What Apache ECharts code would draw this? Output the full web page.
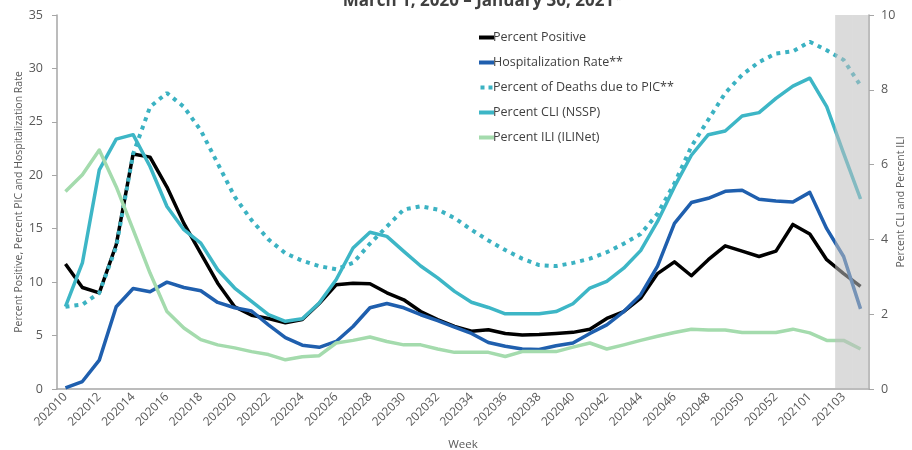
<!DOCTYPE html>
<html>
<head>
<meta charset="utf-8">
<script src="https://cdn.jsdelivr.net/npm/echarts@6/dist/echarts.min.js"></script>
<style>html,body{margin:0;padding:0;background:#fff;overflow:hidden}#c{width:912px;height:450px}</style>
</head>
<body>
<div id="c"></div>
<script>
const weeks = ['202010','202011','202012','202013','202014','202015','202016','202017','202018','202019',
'202020','202021','202022','202023','202024','202025','202026','202027','202028','202029',
'202030','202031','202032','202033','202034','202035','202036','202037','202038','202039',
'202040','202041','202042','202043','202044','202045','202046','202047','202048','202049',
'202050','202051','202052','202053','202101','202102','202103','202104'];

const percentPositive = [11.7,9.5,9.0,13.5,22.0,21.7,18.9,15.5,12.7,9.9,
7.7,6.9,6.6,6.2,6.5,8.0,9.75,9.9,9.85,9.0,
8.35,7.25,6.5,5.85,5.4,5.55,5.2,5.05,5.1,5.2,
5.3,5.6,6.6,7.25,8.5,10.8,11.9,10.6,12.1,13.4,
12.9,12.4,12.9,15.4,14.5,12.1,10.8,9.6];

const hospitalizationRate = [0.1,0.7,2.7,7.7,9.4,9.1,10.0,9.5,9.2,8.1,
7.6,7.3,6.0,4.8,4.1,3.9,4.45,5.85,7.6,8.0,
7.6,6.95,6.4,5.8,5.2,4.35,4.0,3.75,3.7,4.05,
4.3,5.2,6.0,7.25,8.8,11.5,15.5,17.45,17.85,18.5,
18.6,17.75,17.6,17.5,18.4,15.0,12.4,7.5];

const percentPIC = [7.7,7.9,9.0,13.3,22.0,26.4,27.7,26.4,24.2,21.1,
18.0,15.8,14.0,12.7,12.0,11.5,11.2,11.8,13.6,15.2,
16.8,17.1,16.8,16.0,14.9,13.9,13.0,12.2,11.6,11.5,
11.8,12.2,12.8,13.6,14.5,16.4,19.25,22.7,25.2,27.7,
29.4,30.6,31.4,31.6,32.5,31.7,30.8,28.4];

const percentCLI = [2.2,3.37,5.86,6.68,6.8,5.95,4.88,4.26,3.9,3.19,
2.7,2.34,1.99,1.81,1.88,2.3,2.92,3.77,4.19,4.08,
3.68,3.29,2.97,2.61,2.32,2.18,2.01,2.01,2.01,2.07,
2.28,2.7,2.88,3.23,3.7,4.48,5.41,6.25,6.8,6.9,
7.3,7.39,7.77,8.1,8.31,7.55,6.3,5.08];

const percentILI = [5.28,5.73,6.39,5.41,4.26,3.1,2.07,1.63,1.32,1.18,
1.1,1.0,0.92,0.78,0.86,0.89,1.23,1.3,1.39,1.27,
1.18,1.18,1.07,0.98,0.98,0.98,0.87,1.0,1.0,1.0,
1.12,1.23,1.07,1.18,1.3,1.41,1.51,1.6,1.58,1.58,
1.51,1.51,1.51,1.6,1.5,1.3,1.3,1.07];

// weeks with incomplete data (shaded)
const shadedWeeks = ['202103','202104'];

const FONT = 'Open Sans';
const TXT = '#595959';
const AX = '#a6a6a6';
const C_POS = '#000000', C_HOSP = '#1f5fae', C_PIC = '#3bb2c2', C_CLI = '#3db6c6', C_ILI = '#a4dbad';

const shadeData = weeks.map(w => shadedWeeks.includes(w) ? 10 : null);

const chart = echarts.init(document.getElementById('c'), null, {renderer: 'canvas'});
const lineSeries = (name, data, color, yIdx, extra) => Object.assign({
  name, type: 'line', data, yAxisIndex: yIdx, symbol: 'none', showSymbol: false,
  lineStyle: {color, width: 3.5, join: 'round'}, itemStyle: {color}, z: 2, animation: false
}, extra || {});

const solidIcon = 'rect';
const dotIcon = 'path://M0,0h4v4h-4z M8,0h4v4h-4z';

chart.setOption({
  animation: false,
  textStyle: {fontFamily: FONT},
  title: {
    text: 'March 1, 2020 \u2013 January 30, 2021*',
    left: 478, top: -12, textAlign: 'center',
    textStyle: {fontFamily: FONT, fontSize: 17, fontWeight: 'bold', color: '#404040'}
  },
  grid: {left: 57, right: 43, top: 15, bottom: 61, containLabel: false, outerBoundsMode: 'none'},
  legend: {
    data: [
      {name: 'Percent Positive', icon: solidIcon},
      {name: 'Hospitalization Rate**', icon: solidIcon},
      {name: 'Percent of Deaths due to PIC**', icon: dotIcon},
      {name: 'Percent CLI (NSSP)', icon: solidIcon},
      {name: 'Percent ILI (ILINet)', icon: solidIcon}
    ],
    orient: 'vertical', left: 474, top: 24, itemGap: 8, itemWidth: 15, itemHeight: 4,
    textStyle: {fontFamily: FONT, fontSize: 12.5, color: '#404040', lineHeight: 17, padding: [0,0,0,-6]}
  },
  xAxis: {
    type: 'category', data: weeks, boundaryGap: true,
    name: 'Week', nameLocation: 'middle', nameGap: 50, nameMoveOverlap: false,
    nameTextStyle: {fontFamily: FONT, fontSize: 11.5, color: TXT},
    axisLine: {lineStyle: {color: AX, width: 1.5}},
    axisTick: {interval: 0, length: 5, lineStyle: {color: AX}},
    axisLabel: {interval: 1, rotate: 45, fontFamily: FONT, fontSize: 12, color: TXT, margin: 6}
  },
  yAxis: [{
    type: 'value', min: 0, max: 35, interval: 5, position: 'left',
    name: 'Percent Positive, Percent PIC and Hospitalization Rate',
    nameLocation: 'middle', nameGap: 32, nameRotate: 90, nameMoveOverlap: false,
    nameTextStyle: {fontFamily: FONT, fontSize: 10.5, color: TXT},
    axisLine: {show: true, lineStyle: {color: AX, width: 1.5}},
    axisTick: {show: true, length: 5, lineStyle: {color: AX}},
    axisLabel: {fontFamily: FONT, fontSize: 12.5, color: TXT, margin: 14},
    splitLine: {show: false}
  }, {
    type: 'value', min: 0, max: 10, interval: 2, position: 'right',
    name: 'Percent CLI and Percent ILI',
    nameLocation: 'middle', nameGap: 27, nameRotate: 90, nameMoveOverlap: false,
    nameTextStyle: {fontFamily: FONT, fontSize: 10.5, color: TXT},
    axisLine: {show: true, lineStyle: {color: AX, width: 1.5}},
    axisTick: {show: true, length: 5, lineStyle: {color: AX}},
    axisLabel: {fontFamily: FONT, fontSize: 12.5, color: TXT, margin: 12},
    splitLine: {show: false}
  }],
  series: [
    lineSeries('Percent Positive', percentPositive, C_POS, 0),
    lineSeries('Hospitalization Rate**', hospitalizationRate, C_HOSP, 0),
    lineSeries('Percent of Deaths due to PIC**', percentPIC, C_PIC, 0,
      {lineStyle: {color: C_PIC, width: 4, type: [4, 5], cap: 'butt'}}),
    lineSeries('Percent CLI (NSSP)', percentCLI, C_CLI, 1),
    lineSeries('Percent ILI (ILINet)', percentILI, C_ILI, 1),
    {
      name: 'shade', type: 'bar', data: shadeData, yAxisIndex: 1,
      barCategoryGap: '0%', barWidth: '100%', z: 5, silent: true,
      itemStyle: {color: 'rgba(190,190,190,0.55)'}
    }
  ]
});
</script>
</body>
</html>
